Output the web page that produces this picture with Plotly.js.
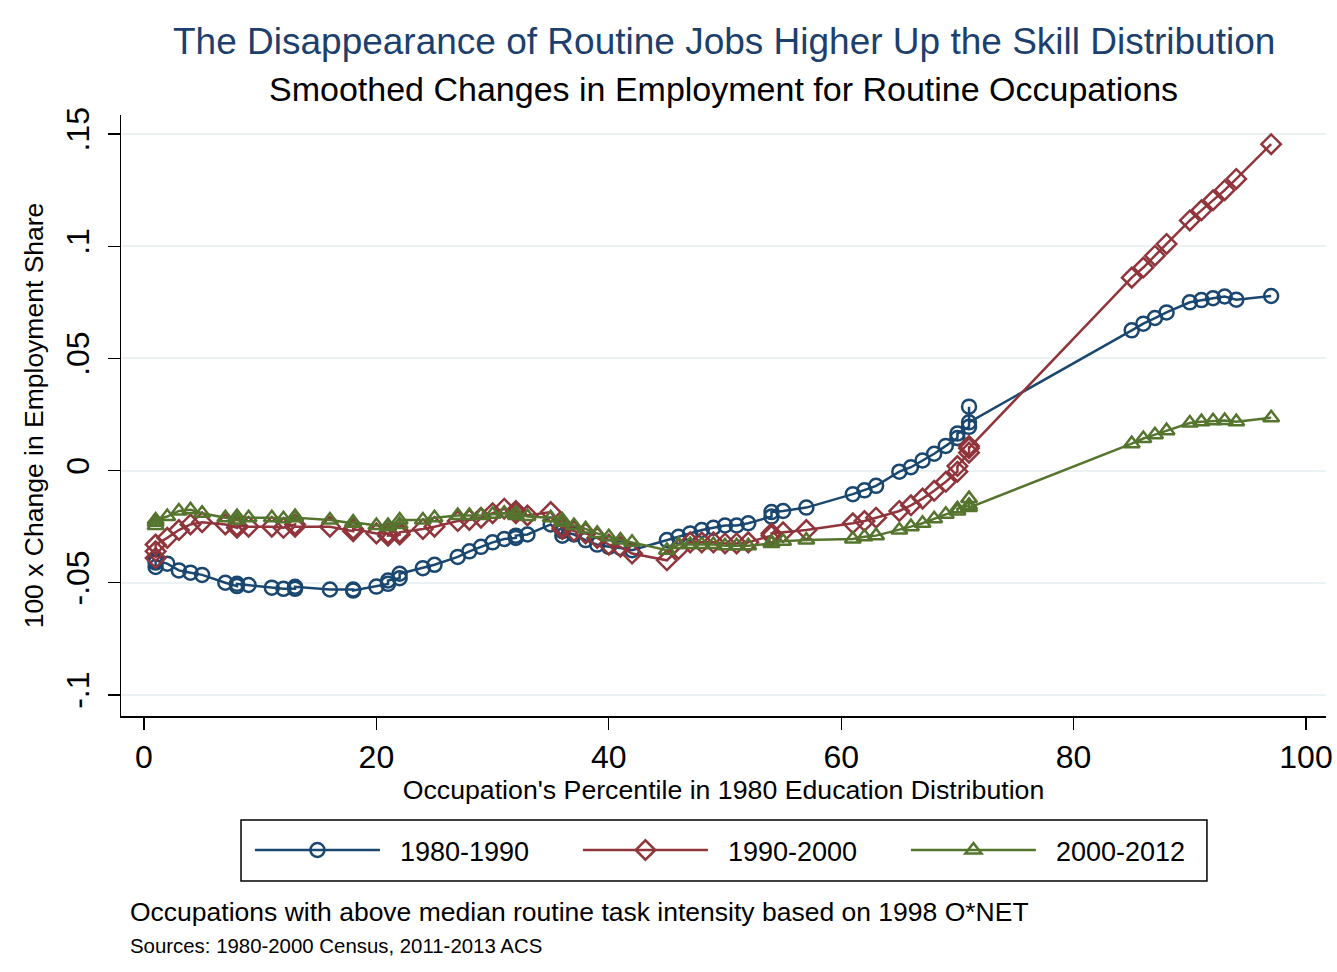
<!DOCTYPE html>
<html>
<head>
<meta charset="utf-8">
<script src="https://cdn.plot.ly/plotly-3.0.1.min.js"></script>
<style>
html,body{margin:0;padding:0;background:#fff;}
#chart{width:1337px;height:972px;}
</style>
</head>
<body>
<div id="chart"></div>
<script>
// Occupation percentile (shared x positions)
const percentile = [1,1,1,2,3,4,5,7,8,8,9,11,12,13,13,16,18,18,20,21,21,22,22,24,25,27,28,29,30,31,32,32,33,35,36,36,37,38,39,40,41,42,45,46,47,48,49,50,51,52,54,54,55,57,61,62,63,65,66,67,68,69,70,70,71,71,71,85,86,87,88,90,91,92,93,94,97];

const change1980_1990 = [-0.043,-0.041,-0.040, -0.0415,-0.0445,-0.0455,-0.0465,-0.050, -0.0515,-0.0505, -0.051,-0.0522,-0.0527, -0.0527,-0.0518, -0.053, -0.053,-0.0535, -0.0517, -0.0505,-0.049, -0.048,-0.046, -0.0435,-0.042,-0.0385,-0.036,-0.034,-0.032,-0.0305, -0.030,-0.029, -0.0285,-0.024, -0.029,-0.027, -0.0285,-0.031,-0.033,-0.034,-0.0345,-0.0355,-0.031,-0.0295,-0.028,-0.0265,-0.0255,-0.0245,-0.0245,-0.0235, -0.0205,-0.0185, -0.018,-0.0165, -0.0105,-0.0088,-0.0068,-0.0005,0.0015,0.0045,0.0075,0.011, 0.0145,0.0165, 0.0195,0.0285,0.0215, 0.0625,0.0655,0.068,0.0705,0.075,0.076,0.0768,0.0776,0.0762,0.0778];

const change1990_2000 = [-0.039,-0.036,-0.033, -0.030,-0.0265,-0.024,-0.023,-0.024, -0.0255,-0.0245, -0.025,-0.025,-0.0255, -0.024,-0.025, -0.025, -0.027,-0.026, -0.028, -0.028,-0.029, -0.0285,-0.0275, -0.026,-0.025,-0.0225,-0.022,-0.021,-0.019,-0.017, -0.019,-0.018, -0.020,-0.0185, -0.026,-0.025, -0.027,-0.028,-0.030,-0.033,-0.034,-0.037,-0.040,-0.035,-0.032,-0.032,-0.032,-0.0325,-0.0325,-0.032, -0.029,-0.028, -0.0275,-0.0265, -0.0235,-0.0225,-0.021,-0.018,-0.0155,-0.0125,-0.009,-0.005, -0.0005,0.002, 0.008,0.011,0.010, 0.086,0.0905,0.0958,0.101,0.1115,0.116,0.1205,0.125,0.130,0.1455];

const change2000_2012 = [-0.0245,-0.023,-0.022, -0.0205,-0.018,-0.0175,-0.019,-0.021, -0.022,-0.0205, -0.021,-0.021,-0.0215, -0.0205,-0.021, -0.022, -0.0235,-0.023, -0.0245, -0.0245,-0.025, -0.024,-0.022, -0.022,-0.021,-0.020,-0.020,-0.020,-0.0195,-0.019, -0.020,-0.019, -0.0205,-0.021, -0.022,-0.023, -0.0245,-0.026,-0.028,-0.0295,-0.031,-0.032,-0.0355,-0.033,-0.033,-0.033,-0.033,-0.0335,-0.0335,-0.0335, -0.0325,-0.032, -0.0315,-0.031, -0.0305,-0.0295,-0.029,-0.0265,-0.025,-0.0235,-0.0215,-0.0195, -0.018,-0.017, -0.0155,-0.0125,-0.0165, 0.012,0.0143,0.016,0.0178,0.0212,0.0218,0.0222,0.0223,0.0218,0.0235];

const seriesNames = ["1980-1990","1990-2000","2000-2012"];
const xTickVals = [0,20,40,60,80,100];
const xTickText = ["0","20","40","60","80","100"];
const yTickVals = [-0.1,-0.05,0,0.05,0.1,0.15];
const yTickText = ["-.1","-.05","0",".05",".1",".15"];

const FONT = "Arial, 'Liberation Sans', sans-serif";
const colors = ["#1a476f","#90353b","#55752f"];
const symbols = ["circle-open","diamond-open","triangle-up-open"];
const ys = [change1980_1990, change1990_2000, change2000_2012];
const NB = "\u00a0\u00a0";

const traces = ys.map((y,i)=>({
  type:"scatter", mode:"lines+markers", name:NB + seriesNames[i],
  x:percentile, y:y,
  line:{color:colors[i], width:2.5},
  marker:{symbol:symbols[i], size:i===1?15:14, color:colors[i], line:{width:2.5, color:colors[i]}},
  cliponaxis:false
}));

const layout = {
  width:1337, height:972,
  paper_bgcolor:"#ffffff", plot_bgcolor:"#ffffff",
  margin:{l:121, r:11, t:115, b:256},
  font:{family:FONT, color:"#000"},
  showlegend:true,
  legend:{
    orientation:"h", x:0.5153, xanchor:"center", y:-0.2237, yanchor:"middle",
    borderwidth:0, bgcolor:"rgba(0,0,0,0)",
    font:{size:27, family:FONT, color:"#000"},
    itemwidth:125, entrywidth:188, tracegroupgap:0
  },
  shapes:[
    {type:"rect", xref:"paper", yref:"paper", x0:0.0996, x1:0.9012, y0:-0.1730, y1:-0.2745,
     line:{color:"#000", width:1.5}, fillcolor:"rgba(0,0,0,0)", layer:"below"}
  ],
  xaxis:{
    range:[-1.98,101.72], tickvals:xTickVals, ticktext:xTickText,
    tickfont:{size:32, family:FONT}, ticks:"outside", ticklen:12, tickwidth:1.2, tickcolor:"#000",
    showline:true, linecolor:"#000", linewidth:1.5, mirror:false,
    showgrid:false, zeroline:false,
    title:{text:"Occupation's Percentile in 1980 Education Distribution", font:{size:26.7, family:FONT}, standoff:0}
  },
  yaxis:{
    range:[-0.1094,0.1585], tickvals:yTickVals, ticktext:yTickText, tickangle:-90,
    tickfont:{size:32, family:FONT}, ticks:"outside", ticklen:12, tickwidth:1.2, tickcolor:"#000",
    ticklabelstandoff:6,
    showline:true, linecolor:"#000", linewidth:1.5,
    showgrid:true, gridcolor:"#eaf2f3", gridwidth:2, zeroline:false,
    title:{text:"100 x Change in Employment Share", font:{size:26.5, family:FONT}, standoff:8}
  },
  annotations:[
    {xref:"paper", yref:"paper", x:0.5, y:1.1215, xanchor:"center", yanchor:"middle", showarrow:false,
     text:"The Disappearance of Routine Jobs Higher Up the Skill Distribution", font:{size:37, color:"#1c3f6e", family:FONT}},
    {xref:"paper", yref:"paper", x:0.5, y:1.0433, xanchor:"center", yanchor:"middle", showarrow:false,
     text:"Smoothed Changes in Employment for Routine Occupations", font:{size:34, color:"#000", family:FONT}},
    {xref:"paper", yref:"paper", x:0.0058, y:-0.326, xanchor:"left", yanchor:"middle", showarrow:false,
     text:"Occupations with above median routine task intensity based on 1998 O*NET", font:{size:26.5, color:"#000", family:FONT}},
    {xref:"paper", yref:"paper", x:0.0058, y:-0.383, xanchor:"left", yanchor:"middle", showarrow:false,
     text:"Sources: 1980-2000 Census, 2011-2013 ACS", font:{size:20.4, color:"#000", family:FONT}}
  ]
};

Plotly.newPlot("chart", traces, layout, {displayModeBar:false, staticPlot:true});
</script>
</body>
</html>
